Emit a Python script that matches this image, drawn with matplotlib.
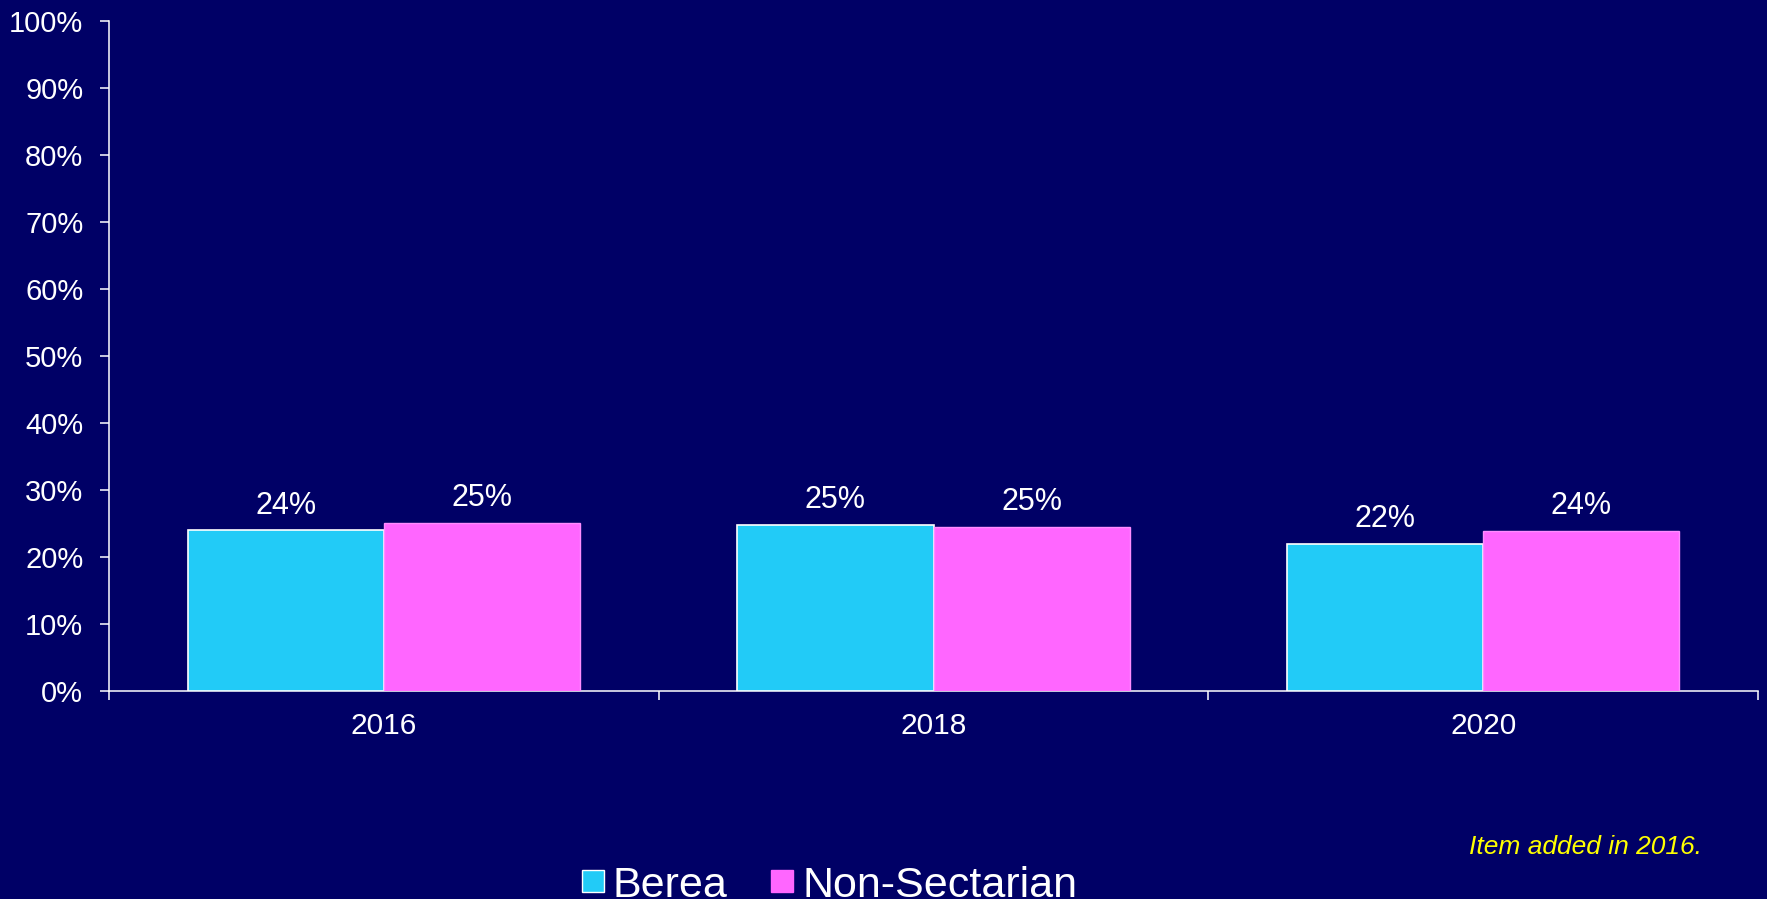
import matplotlib
matplotlib.use("Agg")
import matplotlib.pyplot as plt
from matplotlib.lines import Line2D
import numpy as np

years = ["2016", "2018", "2020"]
berea = [0.24, 0.248, 0.22]
nonsect = [0.251, 0.245, 0.239]
berea_labels = ["24%", "25%", "22%"]
nonsect_labels = ["25%", "25%", "24%"]
series_names = ["Berea", "Non-Sectarian"]

BG = "#000066"
C_BEREA = "#22CBF7"
C_NS = "#FF66FF"

plt.rcParams['font.family'] = ['Liberation Sans', 'DejaVu Sans']

fig = plt.figure(figsize=(17.67, 8.99), dpi=100, facecolor=BG)
ax = fig.add_axes([0.0617, 0.2314, 0.9949 - 0.0617, 0.9766 - 0.2314])
ax.set_facecolor(BG)

x = np.arange(len(years))
w = 0.357
b1 = ax.bar(x - w / 2, berea, w, color=C_BEREA, edgecolor="white", linewidth=1.2, zorder=3)
b2 = ax.bar(x + w / 2, nonsect, w, color=C_NS, edgecolor="#FF8CFF", linewidth=1.0, zorder=3)

for rects, labs in ((b1, berea_labels), (b2, nonsect_labels)):
    for r, lab in zip(rects, labs):
        ax.annotate(lab, (r.get_x() + r.get_width() / 2, r.get_height()),
                    xytext=(0, 12), textcoords="offset points",
                    ha="center", va="baseline", color="white", fontsize=22)

ax.set_xlim(-0.5, len(years) - 0.5)
ax.set_ylim(0, 1.0)
ax.set_yticks(np.arange(0, 1.01, 0.1))
ax.set_yticklabels([f"{int(round(v * 100))}%" for v in np.arange(0, 1.01, 0.1)])
ax.set_xticks(np.arange(-0.5, len(years), 1.0))
ax.set_xticklabels([])
ax.set_xticks(x, minor=True)
ax.set_xticklabels(years, minor=True)
ax.tick_params(axis="x", which="major", length=6.5, width=1.1, color="white", direction="out")
ax.tick_params(axis="x", which="minor", length=0, pad=15, labelsize=21.5, labelcolor="white")
ax.tick_params(axis="y", length=6.5, width=1.1, color="white", direction="out",
               labelsize=21, labelcolor="white", pad=12)

for s in ("top", "right"):
    ax.spines[s].set_visible(False)
for s in ("left", "bottom"):
    ax.spines[s].set_color("white")
    ax.spines[s].set_linewidth(1.1)

handles = [
    Line2D([], [], linestyle="none", marker="s", markersize=16, markerfacecolor=C_BEREA,
           markeredgecolor="white", markeredgewidth=1.0),
    Line2D([], [], linestyle="none", marker="s", markersize=16, markerfacecolor=C_NS,
           markeredgecolor=C_NS, markeredgewidth=1.0),
]
leg = fig.legend(handles, series_names, loc="center", bbox_to_anchor=(0.468, 0.015),
                 ncol=2, frameon=False, fontsize=31, handlelength=0.75,
                 handletextpad=0.09, columnspacing=0.9, labelcolor="white")

fig.text(0.9632, 0.058, "Item added in 2016.", color="#FFFF00", fontsize=19,
         style="italic", ha="right", va="center")

fig.savefig("out.png", dpi=100, facecolor=BG)
